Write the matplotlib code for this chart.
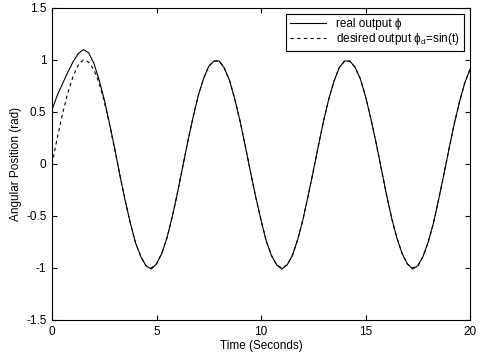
import numpy as np
import matplotlib
matplotlib.use("Agg")
import matplotlib.pyplot as plt
from matplotlib.ticker import FuncFormatter

#%%
# values, 0.25 s apart
t = [i * 0.25 for i in range(81)]

desired_out = [
    0.00, 0.25, 0.48, 0.68, 0.84, 0.95, 1.00, 0.98, 0.91, 0.78,
    0.60, 0.38, 0.14, -0.11, -0.35, -0.57, -0.76, -0.89, -0.98, -1.00,
    -0.96, -0.86, -0.71, -0.51, -0.28, -0.03, 0.22, 0.45, 0.66, 0.82,
    0.94, 0.99, 0.99, 0.92, 0.80, 0.62, 0.41, 0.17, -0.08, -0.32,
    -0.54, -0.74, -0.88, -0.97, -1.00, -0.97, -0.88, -0.73, -0.54, -0.31,
    -0.07, 0.18, 0.42, 0.63, 0.80, 0.93, 0.99, 0.99, 0.93, 0.82,
    0.65, 0.44, 0.21, -0.04, -0.29, -0.52, -0.71, -0.86, -0.96, -1.00,
    -0.98, -0.89, -0.75, -0.57, -0.34, -0.10, 0.15, 0.39, 0.60, 0.78,
    0.91,
]

real_out = [
    0.52, 0.66, 0.77, 0.88, 0.98, 1.06, 1.10, 1.07, 0.97, 0.81,
    0.62, 0.39, 0.15, -0.11, -0.35, -0.57, -0.76, -0.89, -0.98, -1.01,
    -0.96, -0.86, -0.71, -0.51, -0.28, -0.03, 0.22, 0.45, 0.66, 0.82,
    0.94, 0.99, 0.99, 0.92, 0.80, 0.62, 0.41, 0.17, -0.08, -0.32,
    -0.54, -0.74, -0.88, -0.97, -1.01, -0.97, -0.88, -0.73, -0.54, -0.31,
    -0.07, 0.18, 0.42, 0.63, 0.80, 0.93, 0.99, 0.99, 0.93, 0.82,
    0.65, 0.44, 0.21, -0.04, -0.29, -0.52, -0.71, -0.86, -0.96, -1.01,
    -0.98, -0.89, -0.75, -0.57, -0.34, -0.10, 0.15, 0.39, 0.60, 0.78,
    0.91,
]

xticks = [0, 5, 10, 15, 20]
yticks = [-1.5, -1, -0.5, 0, 0.5, 1, 1.5]

#%%
plt.rcParams['font.family'] = ['Liberation Sans', 'DejaVu Sans']
plt.rcParams['mathtext.fontset'] = 'custom'
plt.rcParams['mathtext.rm'] = 'Liberation Sans'
fs = 8.5

fig = plt.figure(figsize=(4.83, 3.55), dpi=100)
ax = fig.add_axes([0.1077, 0.0986, 0.8654, 0.8789])

ax.plot(t, real_out, c="black", lw=0.8, label="real output \u03d5")
ax.plot(t, desired_out, c="black", lw=0.8, ls=(0, (3, 3)),
        label="desired output \u03d5$_\\mathrm{d}$=sin(t)")

ax.set_xlim(0, 20)
ax.set_ylim(-1.5, 1.5)
ax.set_xticks(xticks)
ax.set_yticks(yticks)
ax.yaxis.set_major_formatter(FuncFormatter(lambda v, p: f"{v:g}"))
ax.tick_params(direction="in", top=True, right=True, length=3.5,
               width=0.8, labelsize=fs, pad=4)
for s in ax.spines.values():
    s.set_linewidth(0.8)

ax.set_xlabel("Time (Seconds)", fontsize=fs, labelpad=2)
ax.set_ylabel("Angular Position (rad)", fontsize=fs, labelpad=3)

leg = ax.legend(loc="upper right", fontsize=fs, fancybox=False,
                edgecolor="black", framealpha=1, handlelength=3.0,
                handletextpad=0.9, borderaxespad=0.5, labelspacing=0.1,
                borderpad=0.35)
leg.get_frame().set_linewidth(0.8)

fig.savefig("out.png", dpi=100)
